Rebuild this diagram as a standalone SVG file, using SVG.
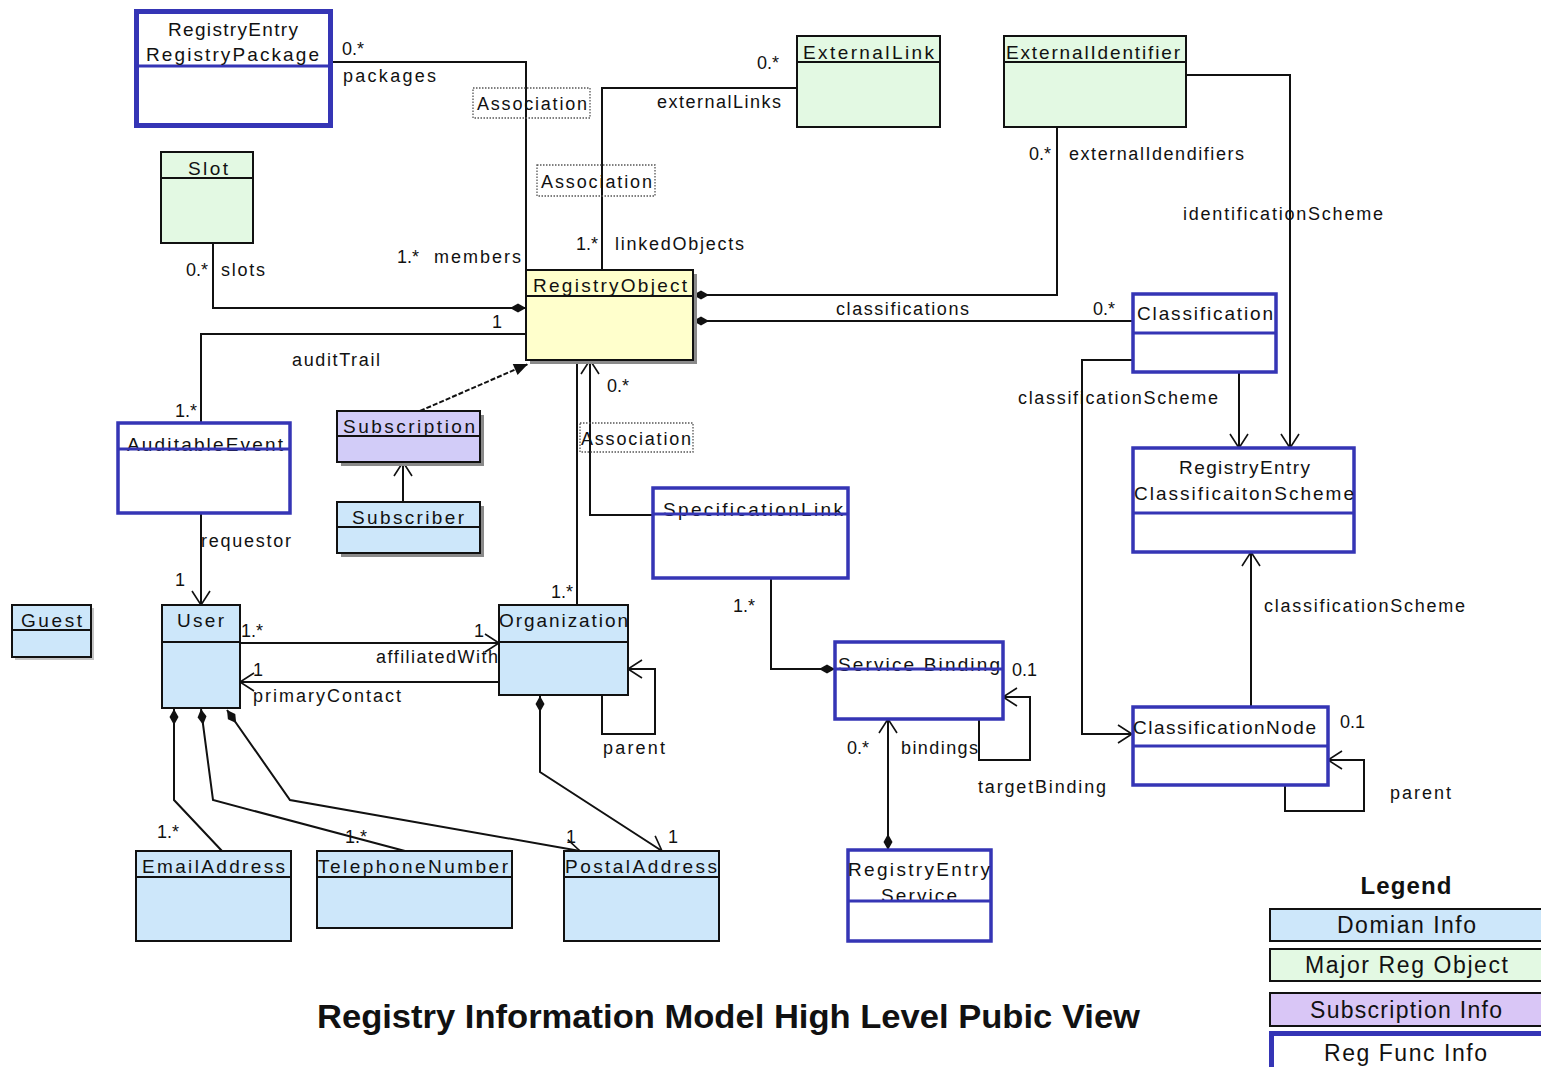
<svg xmlns="http://www.w3.org/2000/svg" width="1541" height="1067" viewBox="0 0 1541 1067">
<style>
  text { font-family: "Liberation Sans", Arial, sans-serif; fill: #111; }
  .nm { font-size: 19px; }
  .lb { font-size: 18px; }
  .box { stroke: #111; stroke-width: 2; }
  .reg { fill: #fff; stroke: #3535b5; stroke-width: 3.5; }
  .regdiv { stroke: #3535b5; stroke-width: 3; }
  .div { stroke: #111; stroke-width: 2; }
  .dom { fill: #cde7fa; }
  .major { fill: #e3f9e3; }
  .sub { fill: #d2ccf8; }
  .core { fill: #ffffcc; }
  .shadow { fill: #8a8a8a; }
  .assoc { fill: none; stroke: #555; stroke-width: 1.3; stroke-dasharray: 1.5 1.5; }
  .conn path { fill: none; stroke: #111; stroke-width: 2; }
  .leg { font-size: 23px; }
</style>
<defs>
  <marker id="open" viewBox="-16 -11 18 22" refX="0" refY="0" markerWidth="18" markerHeight="22" markerUnits="userSpaceOnUse" orient="auto-start-reverse">
    <path d="M-14,-9 L0,0 L-14,9" fill="none" stroke="#111" stroke-width="1.6"/>
  </marker>
  <marker id="dia" viewBox="-20 -6 22 12" refX="0" refY="0" markerWidth="22" markerHeight="12" markerUnits="userSpaceOnUse" orient="auto-start-reverse">
    <path d="M0,0 L-8,-4.5 L-16,0 L-8,4.5Z" fill="#111"/>
  </marker>
  <marker id="tri" viewBox="-16 -8 18 16" refX="0" refY="0" markerWidth="18" markerHeight="16" markerUnits="userSpaceOnUse" orient="auto">
    <path d="M-14,-6 L0,0 L-14,6Z" fill="#111"/>
  </marker>
</defs>
<rect width="1541" height="1067" fill="#fff"/>

<!-- connectors -->
<g id="connectors" class="conn">
  <path d="M332,62 H526 V270"/>
  <path d="M797,88 H602 V270"/>
  <path d="M1057,127 V295 H693" marker-end="url(#dia)"/>
  <path d="M1186,75 H1290 V448" marker-end="url(#open)"/>
  <path d="M1133,321 H693" marker-end="url(#dia)"/>
  <path d="M213,243 V308 H526" marker-end="url(#dia)"/>
  <path d="M526,334 H201 V422"/>
  <path d="M420,411 L528,364" stroke-dasharray="5 2" marker-end="url(#tri)"/>
  <path d="M403,502 V462" marker-end="url(#open)"/>
  <path d="M201,513 V605" marker-end="url(#open)"/>
  <path d="M577,605 V360"/>
  <path d="M653,515 H590 V360" marker-end="url(#open)"/>
  <path d="M771,578 V669 H835" marker-end="url(#dia)"/>
  <path d="M979,719 V760 H1030 V697 H1003" marker-end="url(#open)"/>
  <path d="M888,850 V719" marker-start="url(#dia)" marker-end="url(#open)"/>
  <path d="M240,643 H499" marker-end="url(#open)"/>
  <path d="M499,682 H240" marker-end="url(#open)"/>
  <path d="M602,695 V734 H655 V669 H628" marker-end="url(#open)"/>
  <path d="M222,851 L174,800 V709" marker-end="url(#dia)"/>
  <path d="M405,851 L213,800 L201,709" marker-end="url(#dia)"/>
  <path d="M227,710 L290,800 L580,851" marker-start="url(#dia)" marker-end="url(#open)"/>
  <path d="M540,696 V772 L662,851" marker-start="url(#dia)" marker-end="url(#open)"/>
  <path d="M1239,372 V448" marker-end="url(#open)"/>
  <path d="M1133,360 H1082 V734 H1132" marker-end="url(#open)"/>
  <path d="M1251,706 V552" marker-end="url(#open)"/>
  <path d="M1285,784 V811 H1364 V760 H1328" marker-end="url(#open)"/>

  <!-- association class markers -->
  <rect class="assoc" x="473" y="88" width="117" height="30"/>
  <text class="lb" x="477" y="110" textLength="110">Association</text>
  <rect class="assoc" x="537" y="165" width="118" height="31"/>
  <text class="lb" x="541" y="188" textLength="111">Association</text>
  <rect class="assoc" x="580" y="423" width="113" height="29"/>
  <text class="lb" x="581" y="445" textLength="110">Association</text>

  <!-- role names and multiplicities -->
  <text class="lb" x="342" y="55">0.*</text>
  <text class="lb" x="343" y="82" textLength="93">packages</text>
  <text class="lb" x="757" y="69">0.*</text>
  <text class="lb" x="657" y="108" textLength="124">externalLinks</text>
  <text class="lb" x="1029" y="160">0.*</text>
  <text class="lb" x="1069" y="160" textLength="175">externalIdendifiers</text>
  <text class="lb" x="1183" y="220" textLength="200">identificationScheme</text>
  <text class="lb" x="576" y="250">1.*</text>
  <text class="lb" x="615" y="250" textLength="129">linkedObjects</text>
  <text class="lb" x="397" y="263">1.*</text>
  <text class="lb" x="434" y="263" textLength="87">members</text>
  <text class="lb" x="186" y="276">0.*</text>
  <text class="lb" x="221" y="276" textLength="44">slots</text>
  <text class="lb" x="836" y="315" textLength="133">classifications</text>
  <text class="lb" x="1093" y="315">0.*</text>
  <text class="lb" x="492" y="328">1</text>
  <text class="lb" x="292" y="366" textLength="88">auditTrail</text>
  <text class="lb" x="607" y="392">0.*</text>
  <text class="lb" x="1018" y="404" textLength="200">classificationScheme</text>
  <text class="lb" x="175" y="417">1.*</text>
  <text class="lb" x="201" y="547" textLength="90">requestor</text>
  <text class="lb" x="175" y="586">1</text>
  <text class="lb" x="551" y="598">1.*</text>
  <text class="lb" x="733" y="612">1.*</text>
  <text class="lb" x="1264" y="612" textLength="201">classificationScheme</text>
  <text class="lb" x="241" y="637">1.*</text>
  <text class="lb" x="474" y="637">1</text>
  <text class="lb" x="376" y="663" textLength="122">affiliatedWith</text>
  <text class="lb" x="1012" y="676">0.1</text>
  <text class="lb" x="253" y="676">1</text>
  <text class="lb" x="253" y="702" textLength="148">primaryContact</text>
  <text class="lb" x="1340" y="728">0.1</text>
  <text class="lb" x="603" y="754" textLength="62">parent</text>
  <text class="lb" x="847" y="754">0.*</text>
  <text class="lb" x="901" y="754" textLength="77">bindings</text>
  <text class="lb" x="978" y="793" textLength="128">targetBinding</text>
  <text class="lb" x="1390" y="799" textLength="61">parent</text>
  <text class="lb" x="157" y="838">1.*</text>
  <text class="lb" x="345" y="843">1.*</text>
  <text class="lb" x="566" y="843">1</text>
  <text class="lb" x="668" y="843">1</text>
</g>

<!-- classes -->
<g id="registryPackage">
  <rect x="136.5" y="11.5" width="194" height="114" fill="#fff" stroke="#3535b5" stroke-width="5"/>
  <line class="regdiv" x1="136" y1="66" x2="331" y2="66"/>
  <text class="nm" x="168" y="36" textLength="130">RegistryEntry</text>
  <text class="nm" x="146" y="61" textLength="173">RegistryPackage</text>
</g>
<g id="slot">
  <rect class="box major" x="161" y="152" width="92" height="91"/>
  <line class="div" x1="161" y1="178" x2="253" y2="178"/>
  <text class="nm" x="188" y="175" textLength="40">Slot</text>
</g>
<g id="externalLink">
  <rect class="box major" x="797" y="36" width="143" height="91"/>
  <line class="div" x1="797" y1="62" x2="940" y2="62"/>
  <text class="nm" x="803" y="59" textLength="131">ExternalLink</text>
</g>
<g id="externalIdentifier">
  <rect class="box major" x="1004" y="36" width="182" height="91"/>
  <line class="div" x1="1004" y1="62" x2="1186" y2="62"/>
  <text class="nm" x="1006" y="59" textLength="174">ExternalIdentifier</text>
</g>
<g id="registryObject">
  <rect class="shadow" x="530" y="274" width="167" height="90"/>
  <rect class="box core" x="526" y="270" width="167" height="90"/>
  <line class="div" x1="526" y1="296" x2="693" y2="296"/>
  <text class="nm" x="533" y="292" textLength="154">RegistryObject</text>
</g>
<g id="classification">
  <rect class="reg" x="1133" y="294" width="143" height="78"/>
  <line class="regdiv" x1="1133" y1="333" x2="1276" y2="333"/>
  <text class="nm" x="1137" y="320" textLength="136">Classification</text>
</g>
<g id="classificationScheme">
  <rect class="reg" x="1133" y="448" width="221" height="104"/>
  <line class="regdiv" x1="1133" y1="513" x2="1354" y2="513"/>
  <text class="nm" x="1179" y="474" textLength="131">RegistryEntry</text>
  <text class="nm" x="1134" y="500" textLength="220">ClassificaitonScheme</text>
</g>
<g id="auditableEvent">
  <rect class="reg" x="118" y="423" width="172" height="90"/>
  <text class="nm" x="127" y="451" textLength="156">AuditableEvent</text>
  <line class="regdiv" x1="118" y1="449" x2="290" y2="449"/>
</g>
<g id="subscription">
  <rect class="shadow" x="341" y="415" width="143" height="51"/>
  <rect class="box sub" x="337" y="411" width="143" height="51"/>
  <line class="div" x1="337" y1="436" x2="480" y2="436"/>
  <text class="nm" x="343" y="433" textLength="132">Subscription</text>
</g>
<g id="subscriber">
  <rect class="shadow" x="341" y="506" width="143" height="51"/>
  <rect class="box dom" x="337" y="502" width="143" height="51"/>
  <line class="div" x1="337" y1="527" x2="480" y2="527"/>
  <text class="nm" x="352" y="524" textLength="112">Subscriber</text>
</g>
<g id="specificationLink">
  <rect class="reg" x="653" y="488" width="195" height="90"/>
  <text class="nm" x="663" y="516" textLength="180">SpecificationLink</text>
  <line class="regdiv" x1="653" y1="514" x2="848" y2="514"/>
</g>
<g id="guest">
  <rect class="shadow" x="15" y="608" width="79" height="52" opacity="0.5"/>
  <rect class="box dom" x="12" y="605" width="79" height="52"/>
  <line class="div" x1="12" y1="630" x2="91" y2="630"/>
  <text class="nm" x="21" y="627" textLength="61">Guest</text>
</g>
<g id="user">
  <rect class="box dom" x="162" y="605" width="78" height="103"/>
  <line class="div" x1="162" y1="642" x2="240" y2="642"/>
  <text class="nm" x="177" y="627" textLength="47">User</text>
</g>
<g id="organization">
  <rect class="box dom" x="499" y="605" width="129" height="90"/>
  <line class="div" x1="499" y1="642" x2="628" y2="642"/>
  <text class="nm" x="499" y="627" textLength="129">Organization</text>
</g>
<g id="serviceBinding">
  <rect class="reg" x="835" y="642" width="168" height="77"/>
  <text class="nm" x="838" y="671" textLength="162">Service Binding</text>
  <line class="regdiv" x1="835" y1="669" x2="1003" y2="669"/>
</g>
<g id="classificationNode">
  <rect class="reg" x="1133" y="707" width="195" height="78"/>
  <line class="regdiv" x1="1133" y1="746" x2="1328" y2="746"/>
  <text class="nm" x="1133" y="734" textLength="183">ClassificationNode</text>
</g>
<g id="emailAddress">
  <rect class="box dom" x="136" y="851" width="155" height="90"/>
  <line class="div" x1="136" y1="877" x2="291" y2="877"/>
  <text class="nm" x="142" y="873" textLength="143">EmailAddress</text>
</g>
<g id="telephoneNumber">
  <rect class="box dom" x="317" y="851" width="195" height="77"/>
  <line class="div" x1="317" y1="877" x2="512" y2="877"/>
  <text class="nm" x="318" y="873" textLength="190">TelephoneNumber</text>
</g>
<g id="postalAddress">
  <rect class="box dom" x="564" y="851" width="155" height="90"/>
  <line class="div" x1="564" y1="877" x2="719" y2="877"/>
  <text class="nm" x="565" y="873" textLength="152">PostalAddress</text>
</g>
<g id="serviceEntry">
  <rect class="reg" x="848" y="850" width="143" height="91"/>
  <text class="nm" x="848" y="876" textLength="142">RegistryEntry</text>
  <text class="nm" x="881" y="902" textLength="76">Service</text>
  <line class="regdiv" x1="848" y1="901" x2="991" y2="901"/>
</g>

<!-- legend -->
<g id="legend">
  <text x="1406" y="894" text-anchor="middle" font-size="24" font-weight="bold" textLength="91">Legend</text>
  <rect class="box dom" x="1270" y="909" width="280" height="32"/>
  <text class="leg" x="1337" y="933" textLength="139">Domian Info</text>
  <rect class="box major" x="1270" y="949" width="280" height="32"/>
  <text class="leg" x="1305" y="973" textLength="203">Major Reg Object</text>
  <rect class="box" x="1270" y="993" width="280" height="33" fill="#d9c6f6"/>
  <text class="leg" x="1310" y="1018" textLength="192">Subscription Info</text>
  <rect x="1271.5" y="1033.5" width="280" height="50" fill="#fff" stroke="#3535b5" stroke-width="5"/>
  <text class="leg" x="1324" y="1061" textLength="163">Reg Func Info</text>
</g>

<text id="title" x="317" y="1028" font-size="34" font-weight="bold" textLength="823" lengthAdjust="spacingAndGlyphs">Registry Information Model High Level Pubic View</text>
</svg>
